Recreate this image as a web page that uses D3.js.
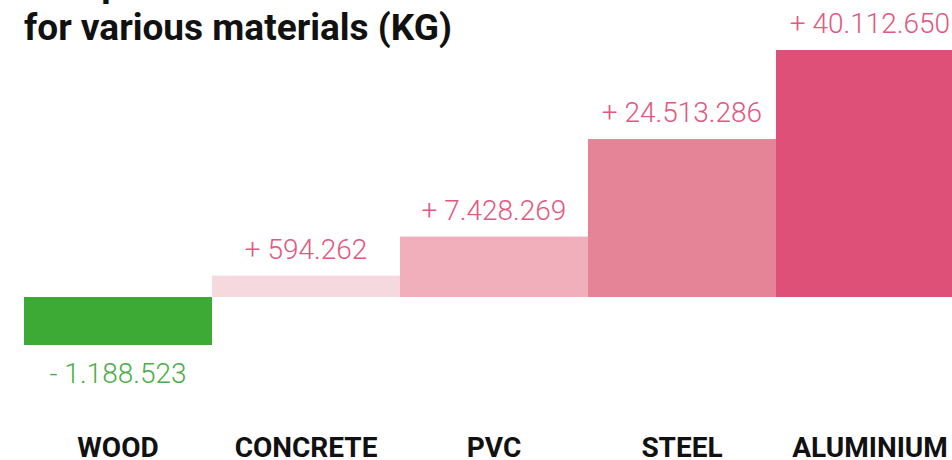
<!DOCTYPE html>
<html>
<head>
<meta charset="utf-8">
<script src="https://cdn.jsdelivr.net/npm/d3@7"></script>
<style>
  html, body { margin: 0; padding: 0; background: #fff; overflow: hidden; }
  svg { display: block; }
</style>
</head>
<body>
<svg id="chart" width="952" height="460"></svg>
<script>
const titleLines = ["Comparison of emissions", "for various materials (KG)"];
const categories = ["WOOD", "CONCRETE", "PVC", "STEEL", "ALUMINIUM"];
const values = [-1188523, 594262, 7428269, 24513286, 40112650];
const labels = ["- 1.188.523", "+ 594.262", "+ 7.428.269", "+ 24.513.286", "+ 40.112.650"];
const colors = ["#3daa35", "#f6d9df", "#f0afbb", "#e58397", "#de5077"];
const labelColors = ["#4aae48", "#e2587f", "#e2587f", "#e2587f", "#e2587f"];

const svg = d3.select("#chart");
const baseline = 297;

const x = d3.scaleBand().domain(categories).range([24, 24 + 188 * categories.length]).padding(0);

// positive values: linear scale with a small base so tiny bars stay visible
const yPos = d3.scaleLinear().domain([0, d3.max(values)]).range([baseline - 18, 50]);
// negative values: own extent below the baseline
const yNeg = d3.scaleLinear().domain([0, d3.min(values)]).range([baseline, 345]);

const data = categories.map((c, i) => ({ c, v: values[i], label: labels[i], color: colors[i], lc: labelColors[i] }));

svg.selectAll("rect.bar").data(data).join("rect")
  .attr("class", "bar")
  .attr("x", d => x(d.c))
  .attr("width", x.bandwidth())
  .attr("y", d => d.v >= 0 ? yPos(d.v) : baseline)
  .attr("height", d => d.v >= 0 ? baseline - yPos(d.v) : yNeg(d.v) - baseline)
  .attr("fill", d => d.color);

svg.selectAll("text.val").data(data).join("text")
  .attr("class", "val")
  .attr("x", d => x(d.c) + x.bandwidth() / 2)
  .attr("y", d => d.v >= 0 ? yPos(d.v) - 17 : yNeg(d.v) + 38)
  .attr("text-anchor", "middle")
  .attr("font-family", "Roboto, sans-serif")
  .attr("font-weight", 300)
  .attr("font-size", 28)
  .attr("fill", d => d.lc)
  .text(d => d.label);

// category axis (no line / ticks)
const xAxis = d3.axisBottom(x).tickSize(0).tickPadding(0);
const gx = svg.append("g").attr("transform", "translate(0,437)").call(xAxis);
gx.select(".domain").remove();
gx.selectAll("text")
  .attr("dy", null)
  .attr("y", 20)
  .attr("font-family", "Roboto, sans-serif")
  .attr("font-weight", 700)
  .attr("font-size", 28)
  .attr("fill", "#111");

svg.append("text")
  .attr("x", 24)
  .attr("font-family", "Roboto, sans-serif")
  .attr("font-weight", 700)
  .attr("font-size", 37)
  .attr("fill", "#111")
  .selectAll("tspan").data(titleLines).join("tspan")
  .attr("x", 24)
  .attr("y", (d, i) => -4 + i * 44)
  .text(d => d);
</script>
</body>
</html>
